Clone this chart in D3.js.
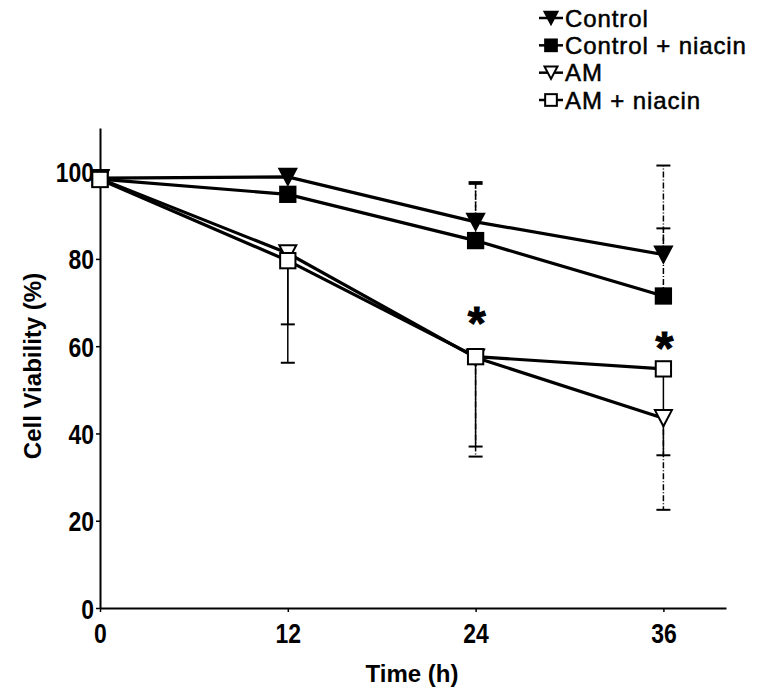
<!DOCTYPE html>
<html><head><meta charset="utf-8">
<script src="https://cdn.jsdelivr.net/npm/d3@7"></script>
<style>body{margin:0;background:#fff}svg{display:block}text{font-family:"Liberation Sans",Arial,sans-serif;fill:#000}</style>
</head><body>
<svg id="c" width="760" height="691"></svg>
<script>
const times = [0, 12, 24, 36];
const seriesNames = ["Control", "Control + niacin", "AM", "AM + niacin"];
const control      = [98.5, 98.8, 88.5, 81.0];
const controlNia   = [98.3, 94.8, 84.2, 71.5];
const am           = [98.4, 81.3, 57.4, 43.5];
const amNia        = [98.2, 79.6, 57.6, 54.8];
// error bar ends (one-sided), null = not visible
const controlErr   = [null, null, 97.6, 101.4];
const controlNiaErr= [null, null, 97.2, 87.0];
const amErr        = [null, 56.2, 34.7, 22.5];
const amNiaErr     = [null, 65.0, 37.0, 35.0];
const sigTimes = [24, 36];
const sigValues = [67.2, 61.5];
const xTicks = [0, 12, 24, 36];
const yTicks = [0, 20, 40, 60, 80, 100];

const svg = d3.select("#c");
const x = d3.scaleLinear().domain([0, 40]).range([100, 726]);
const y = d3.scaleLinear().domain([0, 110]).range([608, 128]);

const series = [
  {name: seriesNames[0], v: control, e: controlErr, sym: "tri", fill: "#000", dash: "6,2,1,2"},
  {name: seriesNames[1], v: controlNia, e: controlNiaErr, sym: "sq", fill: "#000", dash: "6,2,1,2"},
  {name: seriesNames[2], v: am, e: amErr, sym: "tri", fill: "#fff", dash: "6,2,1,2"},
  {name: seriesNames[3], v: amNia, e: amNiaErr, sym: "sq", fill: "#fff", dash: null}
];

const SX = 0.82;
// axes
const yAxis = svg.append("g").attr("transform", "translate(100,0)")
  .call(d3.axisLeft(y).tickValues(yTicks).tickSize(4).tickPadding(3).tickSizeOuter(0));
const xAxis = svg.append("g").attr("transform", "translate(0,608)")
  .call(d3.axisBottom(x).tickValues(xTicks).tickSize(4).tickPadding(11).tickSizeOuter(0));
[yAxis, xAxis].forEach(a => {
  a.select(".domain").attr("stroke", "#000").attr("stroke-width", 2);
  a.selectAll(".tick line").attr("stroke", "#000").attr("stroke-width", 1.5);
  a.selectAll("text").attr("font-size", 28).attr("font-weight", "bold")
    .attr("font-family", '"Liberation Sans",Arial,sans-serif')
    .attr("transform", `scale(${SX},1)`);
});
yAxis.selectAll("text").attr("dy", "0.36em").attr("x", -6 / SX);

svg.append("text").attr("x", 412).attr("y", 682).attr("text-anchor", "middle")
  .attr("font-size", 24).attr("font-weight", "bold").text("Time (h)");
svg.append("text").attr("transform", "translate(41,366) rotate(-90)").attr("text-anchor", "middle")
  .attr("font-size", 24).attr("font-weight", "bold").text("Cell Viability (%)");

// error bars
series.forEach(s => {
  times.forEach((t, i) => {
    if (s.e[i] == null) return;
    const g = svg.append("g");
    g.append("line").attr("x1", x(t)).attr("x2", x(t)).attr("y1", y(s.v[i])).attr("y2", y(s.e[i]))
      .attr("stroke", "#000").attr("stroke-width", 1.5).attr("stroke-dasharray", t === 12 ? null : s.dash);
    g.append("line").attr("x1", x(t) - 7).attr("x2", x(t) + 7).attr("y1", y(s.e[i])).attr("y2", y(s.e[i]))
      .attr("stroke", "#000").attr("stroke-width", 2);
  });
});

// lines
const line = d3.line().x((d, i) => x(times[i])).y(d => y(d));
series.forEach(s => {
  svg.append("path").datum(s.v).attr("d", line).attr("fill", "none")
    .attr("stroke", "#000").attr("stroke-width", 3.2);
});

function drawSym(g, sym, fill, cx, cy, sz) {
  if (sym === "tri") {
    const h = sz * 0.95, w = sz;
    g.append("path").attr("d", `M${cx - w / 2},${cy - h / 2}L${cx + w / 2},${cy - h / 2}L${cx},${cy + h / 2}Z`)
      .attr("fill", fill).attr("stroke", "#000").attr("stroke-width", 2);
  } else {
    const w = sz * 0.9;
    g.append("rect").attr("x", cx - w / 2).attr("y", cy - w / 2).attr("width", w).attr("height", w)
      .attr("fill", fill).attr("stroke", "#000").attr("stroke-width", 2);
  }
}
// markers
series.forEach(s => {
  const g = svg.append("g");
  times.forEach((t, i) => drawSym(g, s.sym, s.fill, x(t), y(s.v[i]), 17));
});

// significance
sigTimes.forEach((t, i) => {
  svg.append("text").attr("x", x(t) + 1).attr("y", y(sigValues[i]) + 24).attr("text-anchor", "middle")
    .attr("font-size", 46).attr("font-weight", "bold").attr("stroke", "#000").attr("stroke-width", 1).text("*");
});

// legend
const legY = d3.scalePoint().domain(seriesNames).range([18, 100]);
series.forEach(s => {
  const cy = legY(s.name);
  const g = svg.append("g");
  g.append("line").attr("x1", 539).attr("x2", 563).attr("y1", cy).attr("y2", cy)
    .attr("stroke", "#000").attr("stroke-width", 2.5);
  drawSym(g, s.sym, s.fill, 551, cy, 13);
  g.append("text").attr("x", 565).attr("y", cy).attr("dy", "0.36em")
    .attr("font-size", 24).attr("letter-spacing", 0.9).attr("stroke", "#000").attr("stroke-width", 0.5).text(s.name);
});
</script>
</body></html>
